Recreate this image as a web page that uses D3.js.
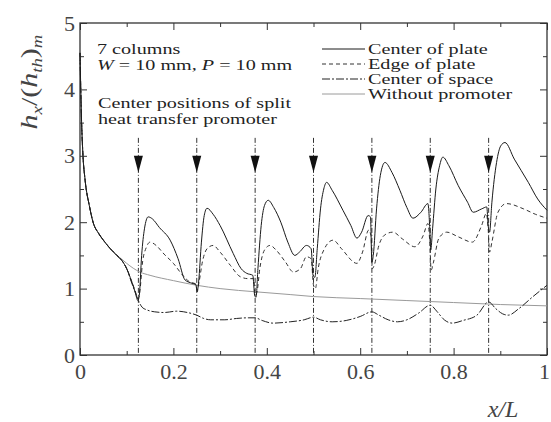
<!DOCTYPE html>
<html lang="en">
<head>
<meta charset="utf-8">
<title>hx chart</title>
<script src="https://d3js.org/d3.v7.min.js"></script>
<style>
  body { margin: 0; background: #fff; }
  svg text { font-family: "Liberation Serif", "DejaVu Serif", serif; }
  .tick text { fill: #444; font-size: 22px; }
  .note { font-size: 14px; fill: #222; }
</style>
</head>
<body>
<div id="chart"></div>
<script>
var width = 551, height = 422;
var plotLeft = 80, plotRight = 547, plotTop = 23, plotBottom = 355;

// center of plate (solid)
var centerPlate = [[0,4.55],[0.003,3.6],[0.006,3.05],[0.011,2.63],[0.02,2.25],[0.028,2.0],[0.04,1.83],[0.05,1.73],[0.065,1.6],[0.079,1.5],[0.09,1.42],[0.1,1.3],[0.11,1.12],[0.118,0.95],[0.124,0.82],[0.127,0.9],[0.132,1.5],[0.138,1.9],[0.146,2.08],[0.155,2.05],[0.17,1.92],[0.193,1.73],[0.21,1.45],[0.225,1.13],[0.24,1.08],[0.248,1.06],[0.251,0.95],[0.254,1.1],[0.26,1.7],[0.266,2.1],[0.272,2.21],[0.285,2.12],[0.3,1.95],[0.328,1.53],[0.345,1.3],[0.357,1.23],[0.37,1.2],[0.374,0.9],[0.377,0.87],[0.381,1.3],[0.388,1.95],[0.395,2.25],[0.403,2.33],[0.415,2.22],[0.43,2.0],[0.445,1.7],[0.46,1.5],[0.47,1.55],[0.485,1.65],[0.495,1.6],[0.499,1.2],[0.503,1.17],[0.508,1.6],[0.515,2.2],[0.522,2.5],[0.528,2.6],[0.54,2.48],[0.563,2.18],[0.58,1.95],[0.593,1.76],[0.603,1.85],[0.617,2.1],[0.622,2.08],[0.625,1.4],[0.628,1.5],[0.635,2.2],[0.643,2.7],[0.653,2.9],[0.668,2.75],[0.685,2.48],[0.7,2.22],[0.713,2.06],[0.73,2.15],[0.745,2.28],[0.749,1.9],[0.751,1.58],[0.755,1.9],[0.762,2.5],[0.77,2.85],[0.777,2.98],[0.79,2.85],[0.81,2.55],[0.83,2.3],[0.842,2.15],[0.86,2.2],[0.871,2.23],[0.874,1.95],[0.877,1.85],[0.882,2.3],[0.892,2.9],[0.901,3.15],[0.91,3.2],[0.93,2.95],[0.96,2.6],[0.98,2.35],[1.0,2.18]];

// edge of plate (dashed)
var edgePlate = [[0,4.55],[0.003,3.6],[0.006,3.05],[0.011,2.63],[0.02,2.25],[0.028,2.0],[0.04,1.83],[0.05,1.73],[0.065,1.6],[0.079,1.5],[0.09,1.42],[0.1,1.3],[0.11,1.12],[0.118,0.97],[0.124,0.85],[0.128,0.95],[0.134,1.4],[0.142,1.62],[0.15,1.7],[0.163,1.65],[0.18,1.52],[0.2,1.38],[0.22,1.2],[0.235,1.1],[0.248,1.07],[0.251,0.98],[0.255,1.1],[0.262,1.4],[0.272,1.6],[0.285,1.65],[0.3,1.55],[0.322,1.35],[0.343,1.18],[0.36,1.15],[0.372,1.15],[0.375,0.9],[0.379,0.95],[0.385,1.3],[0.395,1.58],[0.407,1.65],[0.42,1.58],[0.44,1.4],[0.457,1.25],[0.472,1.3],[0.485,1.48],[0.495,1.45],[0.5,1.05],[0.504,1.0],[0.51,1.3],[0.522,1.58],[0.542,1.73],[0.56,1.6],[0.593,1.38],[0.605,1.55],[0.618,1.88],[0.623,1.8],[0.626,1.3],[0.63,1.35],[0.64,1.65],[0.655,1.82],[0.67,1.85],[0.69,1.75],[0.717,1.63],[0.735,1.8],[0.745,1.98],[0.749,1.7],[0.752,1.28],[0.757,1.4],[0.768,1.75],[0.785,1.85],[0.81,1.78],[0.84,1.7],[0.86,1.95],[0.87,2.13],[0.874,1.9],[0.877,1.55],[0.882,1.7],[0.895,2.15],[0.913,2.28],[0.95,2.2],[0.975,2.12],[1.0,2.06]];

// center of space (dash-dot)
var centerSpace = [[0,4.55],[0.003,3.6],[0.006,3.05],[0.011,2.63],[0.02,2.25],[0.028,2.0],[0.04,1.83],[0.05,1.73],[0.065,1.6],[0.079,1.5],[0.09,1.42],[0.1,1.3],[0.11,1.1],[0.118,0.95],[0.125,0.82],[0.133,0.72],[0.143,0.68],[0.16,0.65],[0.18,0.64],[0.207,0.66],[0.23,0.64],[0.25,0.6],[0.265,0.55],[0.28,0.53],[0.31,0.53],[0.335,0.55],[0.36,0.56],[0.375,0.56],[0.39,0.52],[0.413,0.48],[0.45,0.5],[0.48,0.53],[0.5,0.57],[0.515,0.53],[0.54,0.5],[0.57,0.52],[0.6,0.58],[0.625,0.65],[0.64,0.6],[0.66,0.53],[0.68,0.5],[0.7,0.53],[0.725,0.63],[0.75,0.75],[0.765,0.65],[0.78,0.53],[0.797,0.48],[0.82,0.52],[0.85,0.6],[0.875,0.8],[0.89,0.7],[0.905,0.62],[0.917,0.6],[0.94,0.7],[0.97,0.88],[1.0,1.05]];

// without promoter (light gray)
var noPromoter = [[0,4.55],[0.003,3.6],[0.006,3.05],[0.011,2.63],[0.02,2.25],[0.028,2.0],[0.04,1.83],[0.05,1.73],[0.065,1.6],[0.079,1.5],[0.09,1.44],[0.1,1.38],[0.128,1.25],[0.15,1.2],[0.2,1.12],[0.25,1.05],[0.3,1.0],[0.379,0.95],[0.45,0.91],[0.5,0.88],[0.6,0.85],[0.7,0.82],[0.8,0.79],[0.9,0.76],[1.0,0.74]];

var promoterPos = [0.125, 0.25, 0.375, 0.5, 0.625, 0.75, 0.875];
var arrowTop = 3.27, arrowHeadTop = 3.0, arrowTip = 2.75;

var xTicks = [0, 0.2, 0.4, 0.6, 0.8, 1];
var xTickLabels = ["0", "0.2", "0.4", "0.6", "0.8", "1"];
var xMinorTicks = [0.1, 0.3, 0.5, 0.7, 0.9];
var yTicks = [0, 1, 2, 3, 4, 5];
var yTickLabels = ["0", "1", "2", "3", "4", "5"];
var yMinorTicks = [0.5, 1.5, 2.5, 3.5, 4.5];

var legendLabels = ["Center of plate", "Edge of plate", "Center of space", "Without promoter"];
var seriesList = [centerPlate, edgePlate, centerSpace, noPromoter];
var seriesStyle = [
  {stroke: "#1a1a1a", dash: null},
  {stroke: "#333", dash: "4,3"},
  {stroke: "#222", dash: "8,2,2,2"},
  {stroke: "#9a9a9a", dash: null}
];

var svg = d3.select("#chart").append("svg")
  .attr("width", width).attr("height", height);

var x = d3.scaleLinear().domain([0, 1]).range([plotLeft, plotRight]);
var y = d3.scaleLinear().domain([0, 5]).range([plotBottom, plotTop]);

// axes with inward ticks
function styleAxis(g) {
  g.select(".domain").remove();
  g.selectAll(".tick line").attr("stroke", "#333");
}
var xAxisG = svg.append("g").attr("transform", "translate(0," + plotBottom + ")")
  .call(d3.axisBottom(x).tickValues(xTicks).tickSize(-7).tickPadding(8)
    .tickFormat(function(d, i) { return xTickLabels[i]; }))
  .call(styleAxis);
// last label sits against the page edge
xAxisG.selectAll(".tick text").filter(function(d) { return d === 1; }).attr("dx", -3);

svg.append("g").attr("transform", "translate(0," + plotBottom + ")")
  .call(d3.axisBottom(x).tickValues(xMinorTicks).tickSize(-4).tickFormat(""))
  .call(styleAxis);
svg.append("g").attr("transform", "translate(0," + plotTop + ")")
  .call(d3.axisTop(x).tickValues(xTicks).tickSize(-7).tickFormat(""))
  .call(styleAxis);
svg.append("g").attr("transform", "translate(0," + plotTop + ")")
  .call(d3.axisTop(x).tickValues(xMinorTicks).tickSize(-4).tickFormat(""))
  .call(styleAxis);
svg.append("g").attr("transform", "translate(" + plotLeft + ",0)")
  .call(d3.axisLeft(y).tickValues(yTicks).tickSize(-7).tickPadding(5)
    .tickFormat(function(d, i) { return yTickLabels[i]; }))
  .call(styleAxis);
svg.append("g").attr("transform", "translate(" + plotLeft + ",0)")
  .call(d3.axisLeft(y).tickValues(yMinorTicks).tickSize(-4).tickFormat(""))
  .call(styleAxis);
svg.append("g").attr("transform", "translate(" + plotRight + ",0)")
  .call(d3.axisRight(y).tickValues(yTicks).tickSize(-7).tickFormat(""))
  .call(styleAxis);
svg.append("g").attr("transform", "translate(" + plotRight + ",0)")
  .call(d3.axisRight(y).tickValues(yMinorTicks).tickSize(-4).tickFormat(""))
  .call(styleAxis);

svg.selectAll(".tick text").attr("fill", "#444").style("font-size", "22px")
  .attr("font-family", null);

// frame
svg.append("rect")
  .attr("x", plotLeft).attr("y", plotTop)
  .attr("width", plotRight - plotLeft).attr("height", plotBottom - plotTop)
  .attr("fill", "none").attr("stroke", "#333").attr("stroke-width", 1.3);

// promoter positions
svg.selectAll("line.prom").data(promoterPos).enter().append("line")
  .attr("class", "prom")
  .attr("x1", function(d) { return x(d); }).attr("x2", function(d) { return x(d); })
  .attr("y1", y(arrowTop)).attr("y2", y(0))
  .attr("stroke", "#333").attr("stroke-width", 1)
  .attr("stroke-dasharray", "5,2,1,2");
svg.selectAll("path.arrow").data(promoterPos).enter().append("path")
  .attr("class", "arrow")
  .attr("d", function(d) {
    return "M" + (x(d) - 4.5) + "," + y(arrowHeadTop) + "L" + (x(d) + 4.5) + "," + y(arrowHeadTop) +
      "L" + x(d) + "," + y(arrowTip) + "Z";
  })
  .attr("fill", "#111");

// curves
var line = d3.line()
  .x(function(d) { return x(d[0]); })
  .y(function(d) { return y(d[1]); })
  .curve(d3.curveMonotoneX);

var order = [3, 2, 1, 0];
order.forEach(function(i) {
  svg.append("path")
    .datum(seriesList[i])
    .attr("d", line)
    .attr("fill", "none")
    .attr("stroke", seriesStyle[i].stroke)
    .attr("stroke-width", 1)
    .attr("stroke-dasharray", seriesStyle[i].dash);
});

// wide serif text, as in the scanned figure
function note(px, py) {
  return svg.append("text").attr("class", "note")
    .attr("transform", "translate(" + px + "," + py + ") scale(1.44,1)");
}

// legend
var legendY = [49, 64, 79, 94];
legendLabels.forEach(function(name, i) {
  svg.append("line")
    .attr("x1", 322).attr("x2", 365)
    .attr("y1", legendY[i]).attr("y2", legendY[i])
    .attr("stroke", seriesStyle[i].stroke).attr("stroke-width", 1)
    .attr("stroke-dasharray", seriesStyle[i].dash);
  note(368, legendY[i] + 5).text(name);
});

// annotations
note(97, 54).text("7 columns");
var wt = note(97, 70);
wt.append("tspan").attr("font-style", "italic").text("W");
wt.append("tspan").text(" = 10 mm, ");
wt.append("tspan").attr("font-style", "italic").text("P");
wt.append("tspan").text(" = 10 mm");
note(98, 108).text("Center positions of split");
note(98, 124).text("heat transfer promoter");

// y label
var yl = svg.append("text")
  .attr("transform", "translate(37,82) rotate(-90) scale(1.25,1)")
  .attr("text-anchor", "middle")
  .attr("fill", "#444")
  .style("font-size", "24px");
yl.append("tspan").attr("font-style", "italic").text("h");
yl.append("tspan").attr("font-style", "italic").attr("font-size", "15px").attr("dy", 5).text("x");
yl.append("tspan").attr("dy", -5).text("/(");
yl.append("tspan").attr("font-style", "italic").text("h");
yl.append("tspan").attr("font-style", "italic").attr("font-size", "15px").attr("dy", 5).text("th");
yl.append("tspan").attr("dy", -5).text(")");
yl.append("tspan").attr("font-style", "italic").attr("font-size", "15px").attr("dy", 5).text("m");

// x label
svg.append("text")
  .attr("x", 503).attr("y", 417)
  .attr("text-anchor", "middle")
  .attr("font-style", "italic")
  .attr("fill", "#444")
  .style("font-size", "24px")
  .text("x/L");
</script>
</body>
</html>
